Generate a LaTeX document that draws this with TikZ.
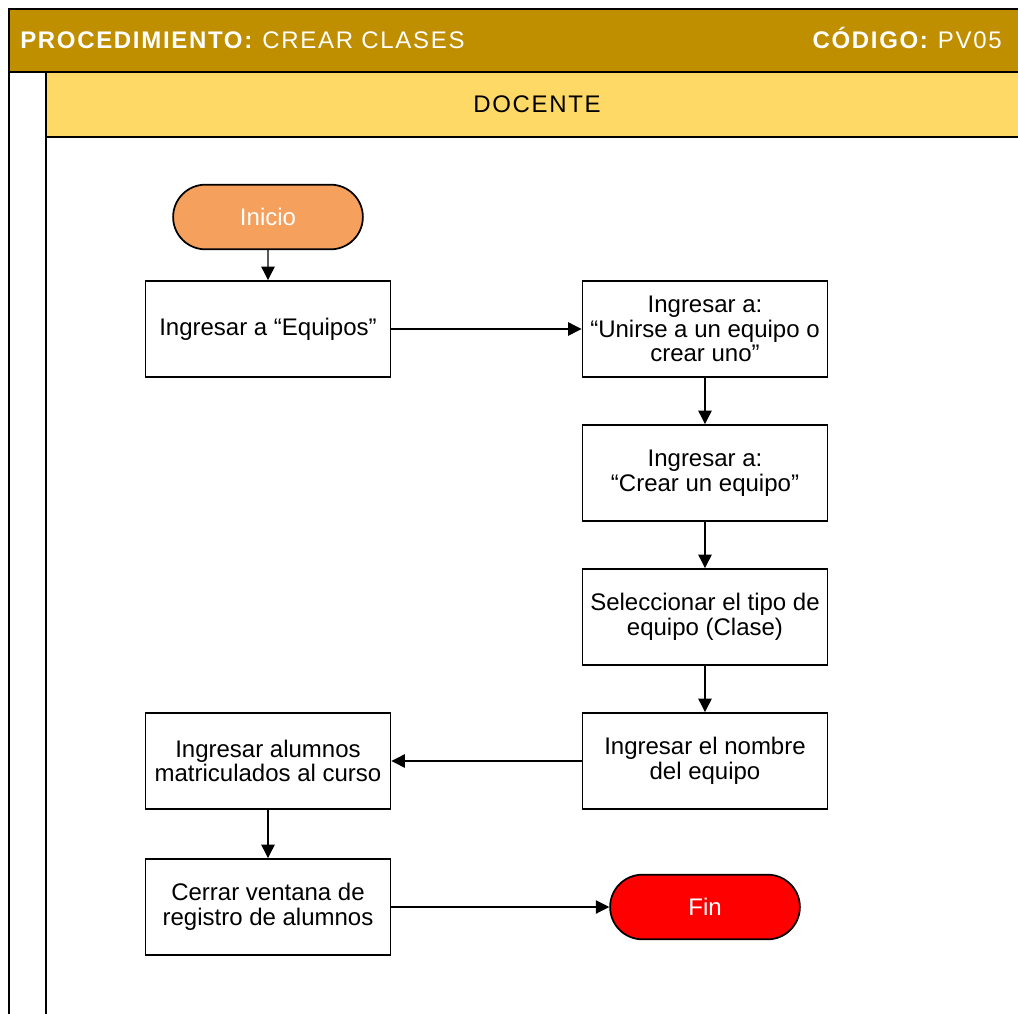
\documentclass[tikz,border=0pt]{standalone}
\usepackage{fontspec}
\setmainfont{Liberation Sans}
\newfontfamily\headfont[LetterSpace=7]{Liberation Sans}
\usetikzlibrary{arrows.meta,shapes.misc}
\definecolor{oro}{RGB}{191,143,0}
\definecolor{carril}{RGB}{255,217,102}
\definecolor{naranja}{RGB}{245,160,92}
\definecolor{rojo}{RGB}{255,0,0}

\begin{document}
\begin{tikzpicture}[x=0.75pt,y=-0.75pt,
  every node/.style={font=\fontsize{18pt}{18.4pt}\selectfont},
  cabecera/.style={inner sep=0pt, font=\headfont\fontsize{18pt}{18pt}\selectfont},
  paso/.style={draw, line width=1.4pt, fill=white, minimum width=183.75pt, minimum height=72pt, align=center, inner sep=2pt},
  terminal/.style={draw, rounded rectangle, line width=1.3pt, minimum width=149pt, minimum height=48.5pt, text=white},
  flecha/.style={line width=0.8pt, -{Triangle[length=10pt,width=10pt]}}]

\useasboundingbox (0,0) rectangle (1018,1014);
\clip (0,0) rectangle (1018,1014);

% marco del procedimiento
\draw[fill=oro, line width=1.5pt]  (9,9) rectangle (1030,72);
\draw[fill=carril, line width=1.5pt]  (46,72) rectangle (1030,137);
\draw[line width=1.5pt]  (9,72) -- (9,1030);
\draw[line width=1.5pt]  (46,137) -- (46,1030);

\node[cabecera, anchor=base west, text=white] (titulo) at (20,48) {\textbf{PROCEDIMIENTO:} CREAR CLASES};
\node[cabecera, anchor=base east, text=white] (codigo) at (1002,48) {\textbf{CÓDIGO:} PV05};
\node[cabecera, anchor=base] (docente) at (537,112) {DOCENTE};

% pasos
\node[terminal, fill=naranja] (inicio) at (268,217) {Inicio};
\node[paso] (equipos) at (268,329) {Ingresar a “Equipos”};
\node[paso] (unirse) at (705,329) {Ingresar a:\\“Unirse a un equipo o\\crear uno”};
\node[paso] (crear) at (705,473) {Ingresar a:\\“Crear un equipo”};
\node[paso] (tipo) at (705,617) {Seleccionar el tipo de\\equipo (Clase)};
\node[paso] (nombre) at (705,761) {Ingresar el nombre\\del equipo};
\node[paso] (alumnos) at (268,761) {Ingresar alumnos\\matriculados al curso};
\node[paso] (cerrar) at (268,907) {Cerrar ventana de\\registro de alumnos};
\node[terminal, fill=rojo] (fin) at (705,907) {Fin};

% conectores
\draw[flecha] (inicio) -- (equipos);
\draw[flecha] (equipos) -- (unirse);
\draw[flecha] (unirse) -- (crear);
\draw[flecha] (crear) -- (tipo);
\draw[flecha] (tipo) -- (nombre);
\draw[flecha] (nombre) -- (alumnos);
\draw[flecha] (alumnos) -- (cerrar);
\draw[flecha] (cerrar) -- (fin);
\end{tikzpicture}
\end{document}
